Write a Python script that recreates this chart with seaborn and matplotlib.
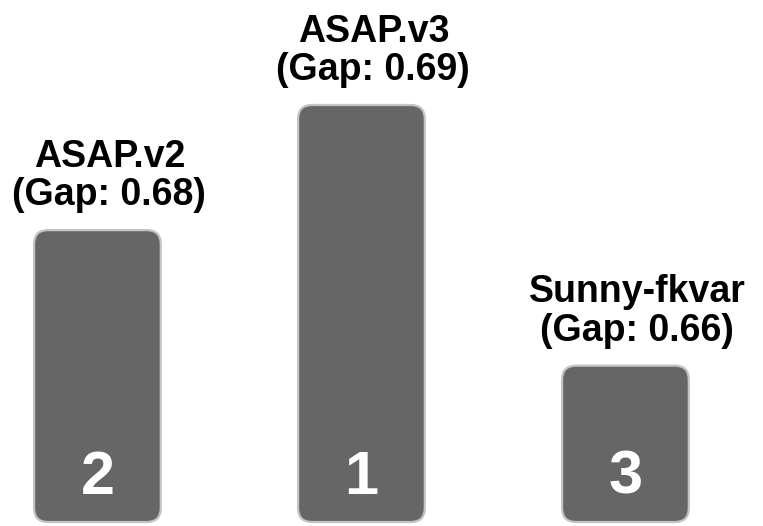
import matplotlib
matplotlib.use("Agg")
import matplotlib.pyplot as plt
import seaborn as sns
import pandas as pd
from matplotlib.patches import FancyBboxPatch

# Data
names = ["ASAP.v2", "ASAP.v3", "Sunny-fkvar"]
gaps = [0.68, 0.69, 0.66]
ranks = [2, 1, 3]
podium_heights = [2.8, 4.0, 1.5]

df = pd.DataFrame({"name": names, "height": podium_heights})

sns.set_theme(style="white")
plt.rcParams["font.family"] = ["Liberation Sans", "DejaVu Sans"]

fig = plt.figure(figsize=(7.63, 5.26), dpi=100)
ax = fig.add_axes([0, 0, 1, 1])

sns.barplot(data=df, x="name", y="height", color="#666666", width=0.48,
            saturation=1, ax=ax)

ax.set_xlim(-0.369, 2.521)
ax.set_ylim(-0.038, 5.007)

# Rounded bars
px_x = 1 / 264.0
px_y = 1 / 104.25
aspect = px_y / px_x
r = 14 * px_x
for p in list(ax.patches):
    x0, y0 = p.get_x(), p.get_y()
    w, h = p.get_width(), p.get_height()
    fc = p.get_facecolor()
    p.remove()
    fb = FancyBboxPatch((x0, y0), w, h,
                        boxstyle=f"round,pad=0,rounding_size={r}",
                        mutation_aspect=aspect,
                        facecolor=fc, edgecolor="#c4c4c4", linewidth=1.6,
                        zorder=2)
    ax.add_patch(fb)

for i, (n, g, rk, h) in enumerate(zip(names, gaps, ranks, podium_heights)):
    ax.text(i + 0.045, h + 0.16, f"{n}\n(Gap: {g:.2f})", ha="center", va="bottom",
            fontsize=27, fontweight="bold", color="black", linespacing=1.1)
    ax.text(i, 0.27, str(rk), ha="center", va="baseline", fontsize=44,
            fontweight="bold", color="white")

ax.axis("off")
fig.savefig("out.png", dpi=100)
